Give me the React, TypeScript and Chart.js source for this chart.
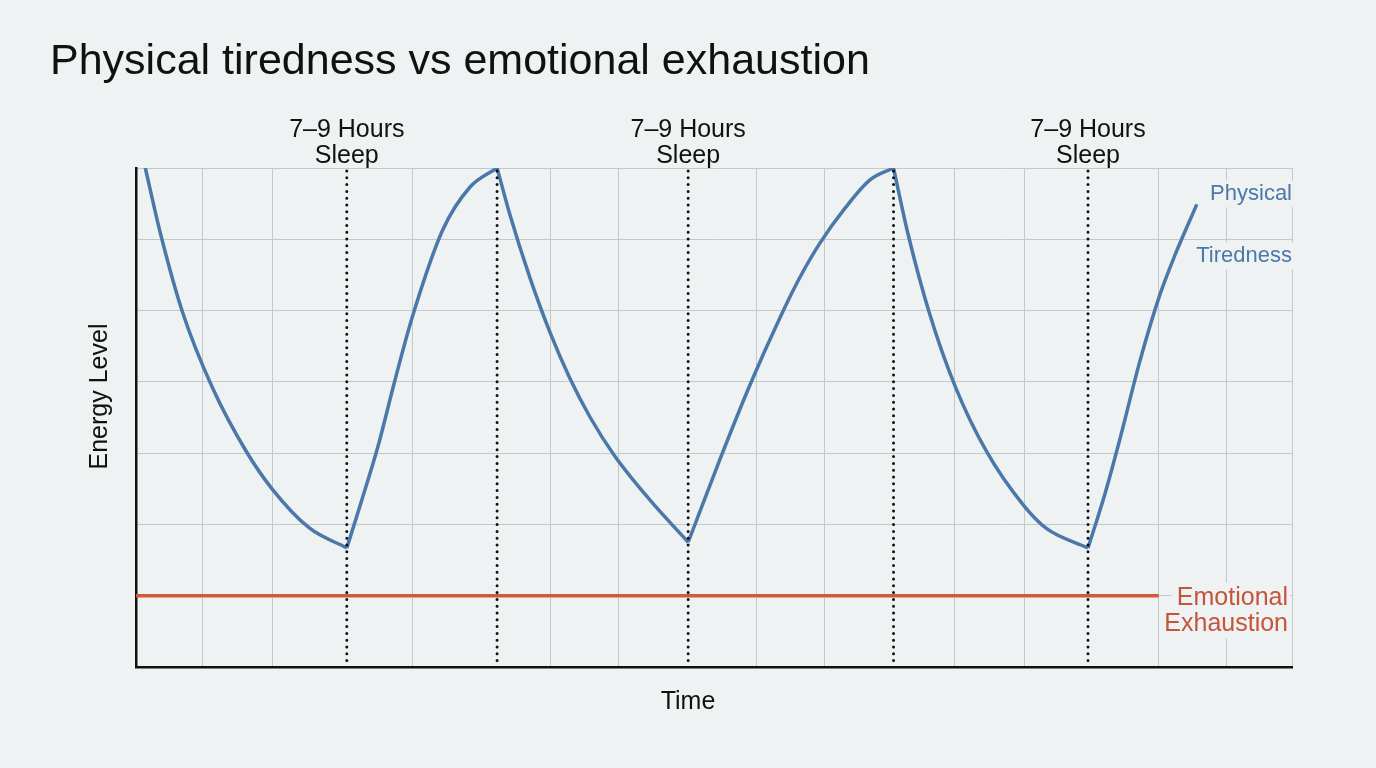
import { useEffect, useRef } from 'react';
import { Chart, registerables } from 'chart.js';
Chart.register(...registerables);

const TITLE = 'Physical tiredness vs emotional exhaustion';
const FONT = '"Liberation Sans", Arial, sans-serif';
const BG = '#eff2f2';
const BLUE = '#4a78a9';
const RED = '#d25a3c';

// physical energy, one stretch per waking / sleeping phase: [time, energy]
const awake1 = [[0.137, 7.0], [0.368, 6.05], [0.687, 4.97], [1.128, 3.91], [1.618, 3.03], [2.0, 2.5], [2.549, 1.95], [3.1, 1.67]];
const sleep1 = [[3.1, 1.67], [3.32, 2.34], [3.56, 3.1], [3.81, 4.03], [4.06, 4.9], [4.51, 6.13], [4.91, 6.73], [5.31, 7.0]];
const awake2 = [[5.31, 7.0], [5.5, 6.34], [5.79, 5.47], [6.09, 4.69], [6.38, 4.05], [6.68, 3.5], [7.04, 2.96], [7.56, 2.34], [8.12, 1.75]];
const sleep2 = [[8.12, 1.75], [8.59, 2.92], [9.03, 3.96], [9.47, 4.9], [9.76, 5.46], [10.06, 5.95], [10.43, 6.44], [10.79, 6.83], [11.14, 7.0]];
const awake3 = [[11.14, 7.0], [11.357, 6.06], [11.666, 4.97], [12.054, 3.92], [12.51, 3.02], [13.059, 2.26], [13.393, 1.94], [14.0, 1.67]];
const sleep3 = [[14.0, 1.67], [14.25, 2.43], [14.47, 3.2], [14.76, 4.28], [15.06, 5.23], [15.28, 5.78], [15.6, 6.49]];
const physical = [awake1, sleep1, awake2, sleep2, awake3, sleep3];

const emotional = [[0, 1], [15.04, 1]];

const sleepStart = [3.1, 8.12, 14.0];
const sleepEnd = [5.31, 11.14];
const sleepLabel = ['7–9 Hours', 'Sleep'];
// vertical grid lines (the dotted markers stand in for the missing ones)
const gridTimes = [0, 0.985, 2, 4.06, 6.09, 7.1, 9.13, 10.13, 12.04, 13.06, 15.04, 16.04, 17];

const toXY = (pts: number[][]) => pts.map(([x, y]) => ({ x, y }));

const overlay = {
  id: 'overlay',
  beforeDraw(chart: Chart) {
    const { ctx, width, height } = chart;
    ctx.save();
    ctx.fillStyle = BG;
    ctx.fillRect(0, 0, width, height);
    ctx.restore();
  },
  afterDatasetsDraw(chart: Chart) {
    const { ctx, chartArea: a, scales: { x, y } } = chart;
    ctx.save();

    ctx.strokeStyle = '#111';
    ctx.lineWidth = 3;
    ctx.lineCap = 'round';
    ctx.setLineDash([0, 6.8]);
    [...sleepStart, ...sleepEnd].forEach(v => {
      const px = x.getPixelForValue(v);
      ctx.beginPath();
      ctx.moveTo(px, a.top + 3);
      ctx.lineTo(px, a.bottom - 3);
      ctx.stroke();
    });
    ctx.setLineDash([]);

    ctx.fillStyle = '#111';
    ctx.font = `25px ${FONT}`;
    ctx.textAlign = 'center';
    ctx.textBaseline = 'middle';
    sleepStart.forEach(v => {
      const px = x.getPixelForValue(v);
      ctx.fillText(sleepLabel[0], px, a.top - 38);
      ctx.fillText(sleepLabel[1], px, a.top - 12);
    });

    ctx.fillText('Time', (a.left + a.right) / 2 - 26, a.bottom + 35);
    ctx.save();
    ctx.translate(a.left - 36, (a.top + a.bottom) / 2 - 21);
    ctx.rotate(-Math.PI / 2);
    ctx.fillText('Energy Level', 0, 0);
    ctx.restore();

    const tag = (text: string, px: number, py: number, color: string, size: number) => {
      ctx.font = `${size}px ${FONT}`;
      const w = ctx.measureText(text).width;
      ctx.fillStyle = BG;
      ctx.fillRect(px - w - 5, py - size * 0.6, w + 7, size * 1.2);
      ctx.fillStyle = color;
      ctx.textAlign = 'right';
      ctx.fillText(text, px, py);
    };
    tag('Physical', a.right, a.top + 26, BLUE, 22);
    tag('Tiredness', a.right, a.top + 88, BLUE, 22);
    const ey = y.getPixelForValue(1);
    tag('Emotional', a.right - 4, ey + 2, '#c4553a', 25);
    tag('Exhaustion', a.right - 4, ey + 28, '#c4553a', 25);

    ctx.restore();
  },
};

export default function App() {
  const ref = useRef<HTMLCanvasElement>(null);

  useEffect(() => {
    document.body.style.margin = '0';
    document.body.style.background = BG;

    const chart = new Chart(ref.current!, {
      type: 'line',
      data: {
        datasets: [
          ...physical.map((seg, i) => ({
            label: `Physical ${i + 1}`,
            data: toXY(seg),
            borderColor: BLUE,
            borderWidth: 3.5,
            pointRadius: 0,
            cubicInterpolationMode: 'monotone' as const,
            fill: false,
          })),
          {
            label: 'Emotional Exhaustion',
            data: toXY(emotional),
            borderColor: RED,
            borderWidth: 3.5,
            pointRadius: 0,
            tension: 0,
            fill: false,
          },
        ],
      },
      options: {
        responsive: true,
        maintainAspectRatio: false,
        animation: false,
        layout: { padding: { left: 50, right: 84, top: 0, bottom: 0 } },
        plugins: {
          legend: { display: false },
          tooltip: { enabled: false },
          title: {
            display: true,
            text: TITLE,
            align: 'start',
            color: '#111',
            font: { family: FONT, size: 43, weight: 'normal' },
            padding: { top: 36.2, bottom: 80.2 },
          },
        },
        scales: {
          x: {
            type: 'linear', min: 0, max: 17,
            ticks: { display: false },
            afterBuildTicks: (s: any) => { s.ticks = gridTimes.map(value => ({ value })); },
            grid: { drawTicks: false, lineWidth: 1, color: '#c5c8c8' },
            border: { color: '#111', width: 2.5 },
            afterFit: (s: any) => { s.height = 101; },
          },
          y: {
            min: 0, max: 7,
            ticks: { display: false, stepSize: 1 },
            grid: { drawTicks: false, lineWidth: 1, color: '#c5c8c8' },
            border: { color: '#111', width: 2.5 },
            afterFit: (s: any) => { s.width = 86; },
          },
        },
      },
      plugins: [overlay],
    });

    return () => chart.destroy();
  }, []);

  return (
    <div style={{ width: 1376, height: 768, position: 'relative' }}>
      <canvas ref={ref} />
    </div>
  );
}
